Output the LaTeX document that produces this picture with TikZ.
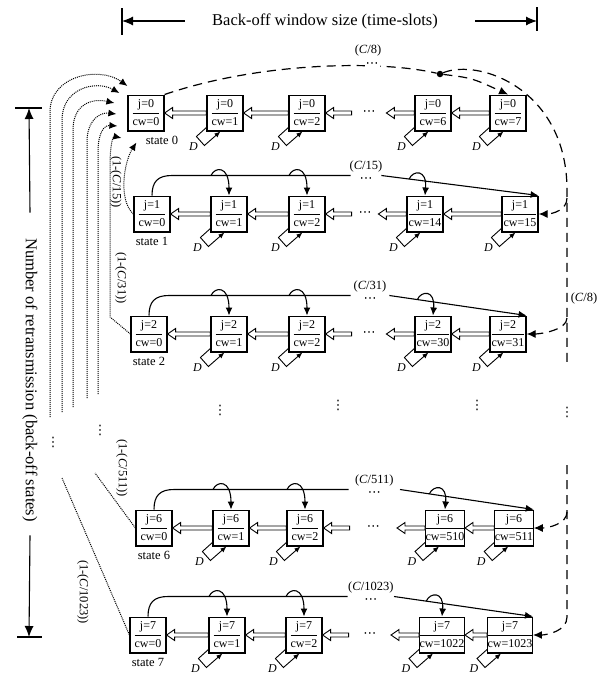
\documentclass[tikz,border=0pt]{standalone}
\usepackage{fontspec}
\setmainfont{Liberation Serif}
\newfontfamily\symfont{DejaVu Sans}
\usetikzlibrary{arrows.meta,calc,positioning}

\tikzset{
  stbox/.style={draw,line width=1.2pt,minimum width=36pt,minimum height=35pt,
    inner sep=0pt,font=\fontsize{12}{14}\selectfont},
  dblarr/.style={draw,line width=0.9pt,fill=white},
  solidln/.style={line width=1.1pt},
  jump/.style={solidln,-{Latex[length=8pt,width=7pt]}},
  dashln/.style={line width=1.2pt,dash pattern=on 9pt off 6pt},
  dotln/.style={line width=1pt,densely dotted},
  lab/.style={font=\fontsize{12.5}{14}\selectfont},
  dlab/.style={font=\fontsize{12}{14}\selectfont\itshape},
  ttlfont/.style={font=\fontsize{16.5}{19}\selectfont},
  skip/.style={inner sep=0pt,font=\symfont\fontsize{13}{15}\selectfont},
}

% box text: j over cw
\newcommand\stlab[2]{{\renewcommand\arraystretch{1.25}\setlength\arrayrulewidth{0.8pt}%
  \begin{tabular}{@{}c@{}}j=#1\\\hline cw=#2\end{tabular}}}
% hollow arrow, tail #1 to head #2 (pointing left)
\newcommand\hollowarr[2]{\draw[dblarr] ($(#1)+(0,-2)$) -- ($(#2)+(8,-2)$) -- ($(#2)+(8,-5.5)$)
  -- (#2) -- ($(#2)+(8,5.5)$) -- ($(#2)+(8,2)$) -- ($(#1)+(0,2)$) -- cycle;}
% D self loop under a box
\newcommand\dloop[1]{\draw[line width=0.9pt,-{Latex[length=6pt,width=5pt]}] ($(#1.south west)+(0,-4)$)
  -- ++(-10,9) -- ++(8,9) -- ($(#1.south west)+(14,0)$);
  \node[dlab,inner sep=1pt] (D#1) at ($(#1.south west)+(-13,15)$) {D};}
% jump arrow bump from the row line into a box
\newcommand\bump[2]{\draw[jump] (#1) .. controls ($(#1)+(4,-9)$) and ($(#1)+(18,-10)$) .. (#2);}

\begin{document}
\begin{tikzpicture}[x=1pt,y=-1pt]
\useasboundingbox (0,0) rectangle (601,675);

% axes
\node[ttlfont] (ttl) at (325,21) {Back-off window size (time-slots)};
\coordinate (hl) at (122,21);
\coordinate (hr) at (537,21);
\draw[solidln,-{Latex[length=11pt,width=9pt]}] ($(ttl.west)+(-24,0)$) -- (hl);
\draw[solidln,-{Latex[length=11pt,width=9pt]}] ($(ttl.east)+(34,0)$) -- (hr);
\draw[solidln] ($(hl)+(0,-13)$) -- ($(hl)+(0,14)$);
\draw[solidln] ($(hr)+(0,-14)$) -- ($(hr)+(0,10)$);

\node[ttlfont,rotate=-90] (ylab) at (30,380) {Number of retransmission (back-off states)};
\coordinate (vt) at (29,108);
\coordinate (vb) at (29,637);
\draw[solidln,-{Latex[length=11pt,width=9pt]}] ($(ylab.west)+(0,-22)$) -- (vt);
\draw[solidln,-{Latex[length=11pt,width=9pt]}] ($(ylab.east)+(0,10)$) -- (vb);
\draw[solidln] ($(vt)+(-14,0)$) -- ($(vt)+(13,0)$);
\draw[solidln] ($(vb)+(-12,0)$) -- ($(vb)+(13,0)$);

% rows of back-off states
\foreach \j/\y/\xs/\wa/\wb/\sx in {
    0/113/{146,225,307,433,508}/6/7/16,
    1/214/{152,229,307,425,520}/14/15/0,
    2/334/{149,229,307,433,508}/30/31/0,
    6/528/{154,231,305,445,514}/510/511/0,
    7/635/{148,227,304,442,510}/1022/1023/0}{
  \foreach \x [count=\k from 0] in \xs {
    \node[stbox] (st\j-\k) at (\x,\y) {\stlab{\j}{\ifnum\k<3 \k\else\ifnum\k=3 \wa\else\wb\fi\fi}};
  }
  \node[lab,below=1pt of st\j-0,xshift=\sx pt] (sl\j) {state \j};
  % decrement arrows
  \hollowarr{st\j-1.west}{st\j-0.east}
  \hollowarr{st\j-2.west}{st\j-1.east}
  \coordinate (tl\j) at ($(st\j-2.east)+(26,0)$);
  \coordinate (hd\j) at ($(st\j-3.west)+(-28,0)$);
  \hollowarr{tl\j}{st\j-2.east}
  \hollowarr{st\j-3.west}{hd\j}
  \hollowarr{st\j-4.west}{st\j-3.east}
  \node[skip] (dt\j) at ($(tl\j)!0.5!(hd\j)$) {⋯};
  \foreach \k in {1,...,4} {\dloop{st\j-\k}}
  % from cw=0 to every slot of the row
  \ifnum\j>0
    \coordinate (ja\j) at ($(st\j-2.north east)+(25,-20)$);
    \coordinate (jb\j) at ($(st\j-3.north west)+(-25,-20)$);
    \draw[solidln] (st\j-0.north) .. controls ($(st\j-0.north)+(0,-14)$) and ($(st\j-0.north)+(6,-20)$)
      .. ($(st\j-0.north)+(20,-20)$) -- (ja\j);
    \draw[jump] (jb\j) -- (st\j-4.north east);
    \node[lab] (cl\j) at ($(ja\j)!0.5!(jb\j)+(0,-9)$) {(\textit{C}/\wb)};
    \node[skip] (jd\j) at ($(ja\j)!0.5!(jb\j)+(0,5)$) {⋯};
    \foreach \k in {1,2} {
      \coordinate (bq\j\k) at ($(st\j-\k.north)+(-18,-20)$);
      \bump{bq\j\k}{st\j-\k.north}
    }
    \coordinate (bq\j3) at ($(st\j-3.north)+(-18,0)$);
    \coordinate (bk\j) at ($(jb\j)!(bq\j3)!(st\j-4.north east)$);
    \bump{bk\j}{st\j-3.north}
  \fi
}

% retry from state 0
\node[circle,fill,inner sep=0pt,minimum size=6.5pt] (fork) at (440,74) {};
\draw[dashln] (st0-0.north east) .. controls (260,62) and (380,60) .. (fork);
\node[lab] (c8a) at (368,50) {(\textit{C}/8)};
\node[skip,fill=white,inner sep=1pt] (d8a) at (372,65) {⋯};
\draw[dashln,-{Latex[length=9pt,width=8pt]}] (fork) .. controls (472,78) .. (st0-4.north);
\coordinate (ra) at (567,190);
\coordinate (rb) at (567,362);
\coordinate (rc) at (567,465);
\draw[dashln] (fork) .. controls (480,58) and (567,90) .. (ra) -- (rb);
\foreach \j in {1,2,6}
  \draw[dashln,-{Latex[length=9pt,width=8pt]}] ($(st\j-4.east -| ra)+(0,-16)$)
    .. controls ($(st\j-4.east -| ra)+(0,-4)$) and ($(st\j-4.east)+(14,0)$) .. (st\j-4.east);
\draw[dashln,-{Latex[length=9pt,width=8pt]}] (rc) -- ($(st7-4.east -| rc)+(0,-18)$)
  .. controls ($(st7-4.east -| rc)+(0,-4)$) and ($(st7-4.east)+(14,0)$) .. (st7-4.east);
\node[lab] (c8b) at (584,298) {(\textit{C}/8)};

% skipped rows
\node[skip] (vd1) at (220,410) {⋮};
\node[skip] (vd2) at (338,405) {⋮};
\node[skip] (vd3) at (477,405) {⋮};
\node[skip] (vd4) at (567,412) {⋮};
\node[skip] (vd5) at (100,430) {⋮};
\node[skip] (vd6) at (53,442) {⋮};

% back to state 0 on failure
\foreach \x/\yb/\yt/\ca/\cb/\cc/\tx/\ty in {
    50/417/112/75/100/66/0/-27,
    62/412/120/88/96/80/-8/-20,
    73/407/130/104/92/98/-13/-10,
    87/398/142/120/100/112/-11/1,
    98/394/152/133/104/125/-10/13}{
  \coordinate (lb\x) at (\x,\yb);
  \coordinate (lt\x) at ($(st0-0.west)+(\tx,\ty)$);
  \draw[dotln,-{Latex[length=8pt,width=7pt]}] (lb\x) -- (\x,\yt) .. controls (\x,\ca) and (\cb,\cc) .. (lt\x);
}
\coordinate (l2a) at (110,317);
\coordinate (lt110) at ($(st0-0.west)+(-6,25)$);
\draw[dotln,-{Latex[length=8pt,width=7pt]}] (st2-0.west) -- (l2a) -- (110,165)
  .. controls (110,145) and (113,136) .. (lt110);
\coordinate (lt1) at ($(st0-0.south west)+(9,11)$);
\draw[dotln,-{Latex[length=8pt,width=7pt]}] (st1-0.west) .. controls (118,200) and (124,162) .. (lt1);
\coordinate (l6) at (95,473);
\coordinate (l7) at (62,478);
\draw[dotln] (st6-0.west) -- (l6);
\draw[dotln] (st7-0.west) -- (l7);

\node[lab,rotate=-90,inner sep=1pt] (p1) at (116,182) {(1-(\textit{C}/15))};
\node[lab,rotate=-90,inner sep=1pt] (p2) at (121,278) {(1-(\textit{C}/31))};
\node[lab,rotate=-90,inner sep=1pt] (p6) at (122,468) {(1-(\textit{C}/511))};
\node[lab,rotate=-90,inner sep=1pt] (p7) at (83,592) {(1-(\textit{C}/1023))};
\end{tikzpicture}
\end{document}
